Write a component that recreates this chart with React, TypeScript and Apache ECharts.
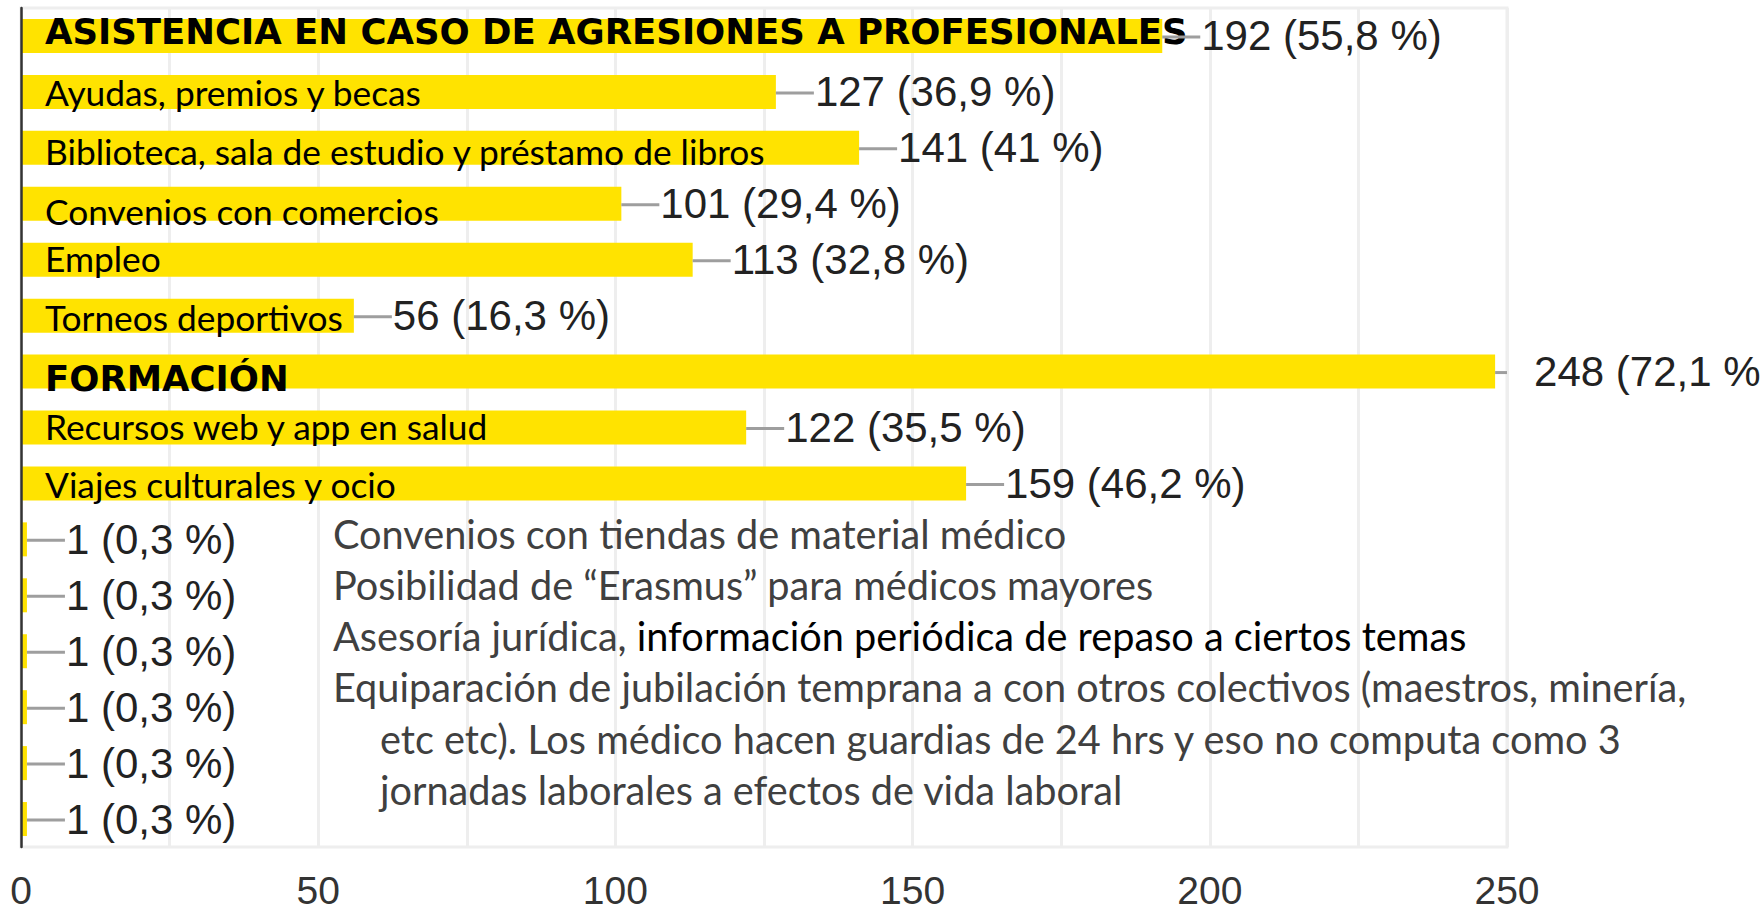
import { useEffect, useRef } from "react";
import * as echarts from "echarts";

// ---------- data ----------
const categories = [
  "ASISTENCIA EN CASO DE AGRESIONES A PROFESIONALES",
  "Ayudas, premios y becas",
  "Biblioteca, sala de estudio y préstamo de libros",
  "Convenios con comercios",
  "Empleo",
  "Torneos deportivos",
  "FORMACIÓN",
  "Recursos web y app en salud",
  "Viajes culturales y ocio",
  "Convenios con tiendas de material médico",
  "Posibilidad de “Erasmus” para médicos mayores",
  "Asesoría jurídica",
  "Información periódica de repaso a ciertos temas",
  "Equiparación de jubilación temprana con otros colectivos",
  "Otros",
];
const counts = [192, 127, 141, 101, 113, 56, 248, 122, 159, 1, 1, 1, 1, 1, 1];
const percents = ["55,8", "36,9", "41", "29,4", "32,8", "16,3", "72,1", "35,5", "46,2", "0,3", "0,3", "0,3", "0,3", "0,3", "0,3"];
const boldRows = [0, 6];
const namedRows = 9; // rows whose name is written on the bar
const xTickLabels = [0, 50, 100, 150, 200, 250];
const otherNotes = [
  "{g|Convenios con tiendas de material médico}",
  "{g|Posibilidad de “Erasmus” para médicos mayores}",
  "{g|Asesoría jurídica, }{k|información periódica de repaso a ciertos temas}",
  "{g|Equiparación de jubilación temprana a con otros colectivos (maestros, minería,}",
  "{g|etc etc). Los médico hacen guardias de 24 hrs y eso no computa como 3}",
  "{g|jornadas laborales a efectos de vida laboral}",
];

// ---------- styles ----------
const nameNudge = [-4, 1, 4, 8, -1, 2, 7, -1, 1];
const noteIndent = [0, 0, 0, 0, 47, 47];

export default function App() {
  const ref = useRef<HTMLDivElement>(null);

  useEffect(() => {
    if (!ref.current) return;
    const chart = echarts.init(ref.current, undefined, { renderer: "svg" });

    const noteGraphics = otherNotes.map((t, i) => ({
      type: "text",
      x: 333 + noteIndent[i],
      y: 533 + i * 51.3,
      z: 10,
      style: {
        text: t,
        textVerticalAlign: "middle",
        verticalAlign: "middle",
        textAlign: "left",
        align: "left",
        rich: {
          g: { fill: "#404040", fontFamily: "Lato", fontSize: 39.7 },
          k: { fill: "#000000", fontFamily: "Lato", fontSize: 39.7 },
        },
      },
    }));

    chart.setOption({
      animation: false,
      grid: {
        left: 21,
        right: 253,
        top: 8,
        bottom: 64,
        show: true,
        borderColor: "#eeeeee",
        borderWidth: 3,
      },
      xAxis: {
        type: "value",
        min: 0,
        max: 250,
        interval: 25,
        axisLine: { show: false },
        axisTick: { show: false },
        splitLine: { show: true, lineStyle: { color: "#eeeeee", width: 3 } },
        axisLabel: {
          formatter: (v: number) => (xTickLabels.includes(v) ? String(v) : ""),
          fontFamily: "Liberation Sans",
          fontSize: 39,
          lineHeight: 30,
          color: "#333333",
          margin: 28,
        },
      },
      yAxis: {
        type: "category",
        data: categories,
        inverse: true,
        z: 5,
        axisLine: { show: true, lineStyle: { color: "#333333", width: 2.5 } },
        axisTick: { show: false },
        axisLabel: { show: false },
        splitLine: { show: false },
      },
      graphic: noteGraphics,
      series: [
        {
          type: "bar",
          data: counts,
          barWidth: 34,
          itemStyle: { color: "#ffe300" },
          silent: true,
          z: 2,
        },
        {
          type: "custom",
          coordinateSystem: "cartesian2d",
          silent: true,
          z: 3,
          data: categories.slice(0, namedRows).map((_, i) => [0, i]),
          encode: { x: 0, y: 1 },
          renderItem: (params: any, api: any) => {
            const i = api.value(1);
            const p = api.coord([0, i]);
            const bold = boldRows.includes(i);
            return {
              type: "text",
              x: p[0] + 24,
              y: p[1] + nameNudge[i],
              style: {
                text: categories[i],
                fill: "#000000",
                font: bold ? 'bold 35.5px "DejaVu Sans"' : '35.3px "Lato"',
                textVerticalAlign: "middle",
                verticalAlign: "middle",
                textAlign: "left",
                align: "left",
              },
            };
          },
        },
        {
          type: "custom",
          coordinateSystem: "cartesian2d",
          silent: true,
          z: 4,
          data: counts.map((v, i) => [v, i]),
          encode: { x: 0, y: 1 },
          renderItem: (params: any, api: any) => {
            const v = api.value(0);
            const i = api.value(1);
            const p = api.coord([v, i]);
            const right = params.coordSys.x + params.coordSys.width;
            return {
              type: "group",
              children: [
                {
                  type: "line",
                  shape: { x1: p[0], y1: p[1] + 1, x2: Math.min(p[0] + 38, right), y2: p[1] + 1 },
                  style: { stroke: "#9e9e9e", lineWidth: 3 },
                },
                {
                  type: "text",
                  x: p[0] + 39,
                  y: p[1],
                  style: {
                    text: `${v} (${percents[i]} %)`,
                    fill: "#222222",
                    font: '42px "Liberation Sans"',
                    textVerticalAlign: "middle",
                    verticalAlign: "middle",
                    textAlign: "left",
                    align: "left",
                  },
                },
              ],
            };
          },
        },
      ],
    });

    return () => chart.dispose();
  }, []);

  return (
    <div
      ref={ref}
      style={{ position: "absolute", left: 0, top: 0, width: 1760, height: 911, background: "#ffffff" }}
    />
  );
}
